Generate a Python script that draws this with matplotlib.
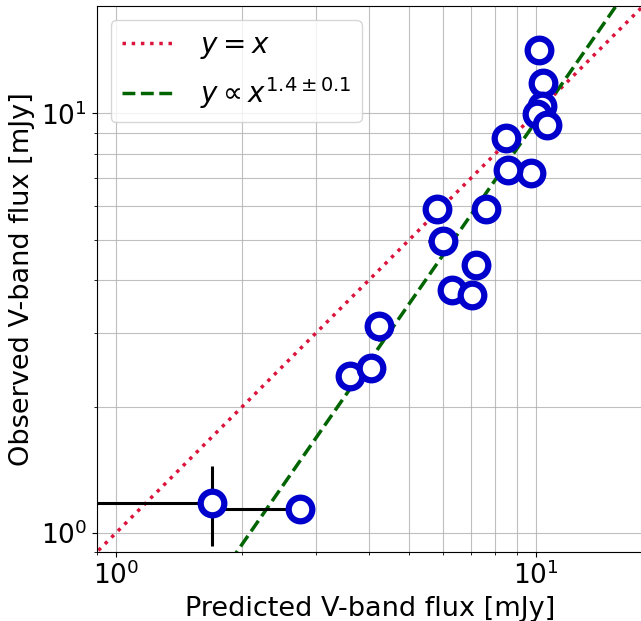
import numpy as np
import matplotlib
matplotlib.use("Agg")
import matplotlib.pyplot as plt
from matplotlib.ticker import NullFormatter

# Predicted vs observed V-band flux (mJy)
predicted = [1.69, 2.74, 3.61, 4.05, 4.23, 5.83, 6.02, 7.60, 7.19, 6.32,
             7.05, 10.18, 10.43, 10.37, 10.05, 10.62, 9.76, 8.61, 8.48]
observed = [1.18, 1.14, 2.37, 2.47, 3.12, 5.91, 4.95, 5.90, 4.35, 3.80,
            3.69, 14.15, 11.79, 10.41, 9.95, 9.38, 7.22, 7.33, 8.72]

# asymmetric errors (mostly hidden behind the markers)
pred_err_lo = [1.19, 0.94, 0.0, 0.0, 0.0, 0.0, 0.47, 0.0, 0.0, 0.0,
               0.0, 0.0, 0.0, 0.0, 0.0, 0.0, 0.0, 0.0, 0.0]
pred_err_hi = [0.10, 0.0, 0.0, 0.0, 0.0, 0.0, 0.0, 0.0, 0.0, 0.0,
               0.0, 0.0, 0.0, 0.0, 0.0, 0.0, 0.0, 0.0, 0.0]
obs_err_lo = [0.25, 0.0, 0.0, 0.0, 0.25, 0.0, 0.0, 0.0, 0.0, 0.0,
              0.0, 0.0, 0.0, 0.0, 0.0, 0.0, 0.0, 0.0, 0.0]
obs_err_hi = [0.26, 0.0, 0.0, 0.0, 0.24, 0.0, 0.0, 0.0, 0.0, 0.0,
              0.0, 0.0, 0.0, 0.0, 0.0, 0.0, 0.0, 0.0, 0.0]

# power-law fit y = norm * x**slope
slope = 1.44
norm = 0.347

fig = plt.figure(figsize=(6.41, 6.21), dpi=100)
ax = fig.add_axes([0.151, 0.111, 0.852, 0.879])

xx = np.logspace(np.log10(0.5), np.log10(30), 200)
ax.plot(xx, xx, ls=":", color="crimson", lw=2.5, label=r"$y = x$")
ax.plot(xx, norm * xx**slope, ls="--", color="darkgreen", lw=2.5,
        label=r"$y \propto x^{1.4\pm0.1}$")

ax.errorbar(predicted, observed,
            xerr=[pred_err_lo, pred_err_hi],
            yerr=[obs_err_lo, obs_err_hi],
            fmt="o", ms=17, mfc="white", mec="mediumblue", mew=4.5,
            ecolor="black", elinewidth=2.2, capsize=0, zorder=3)

ax.set_xscale("log")
ax.set_yscale("log")
ax.set_xlim(0.9, 18)
ax.set_ylim(0.9, 18)
ax.xaxis.set_minor_formatter(NullFormatter())
ax.yaxis.set_minor_formatter(NullFormatter())
ax.grid(True, which="both", color="#b0b0b0", lw=0.8, alpha=0.8)
ax.tick_params(labelsize=19)

ax.set_xlabel("Predicted V-band flux [mJy]", fontsize=19.5)
ax.set_ylabel("Observed V-band flux [mJy]", fontsize=19.5)
ax.legend(loc="upper left", fontsize=20, handlelength=2.0)

fig.savefig("out.png", dpi=100)
